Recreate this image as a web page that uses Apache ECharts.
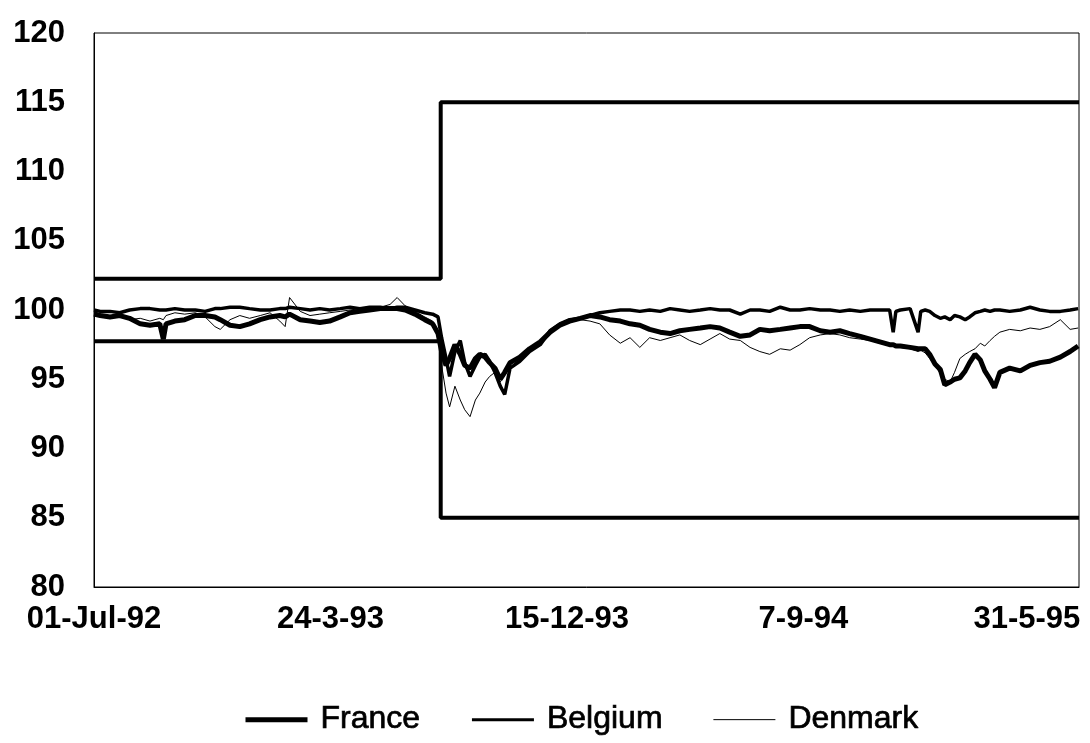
<!DOCTYPE html>
<html>
<head>
<meta charset="utf-8">
<script src="https://cdn.jsdelivr.net/npm/echarts@6/dist/echarts.min.js"></script>
<style>
html,body{margin:0;padding:0;background:#fff;}
#chart{width:1090px;height:743px;}
</style>
</head>
<body>
<div id="chart"></div>
<script>
// x positions are day offsets from 01-Jul-92
const tickDays = [0, 266, 532, 798, 1064];
const tickLabels = ['01-Jul-92', '24-3-93', '15-12-93', '7-9-94', '31-5-95'];

const days = [0,7,18,29,40,52,63,74,78,81,91,102,114,125,136,142,153,164,175,187,198,209,215,220,232,243,254,265,277,288,299,310,322,333,341,350,361,372,381,387,391,396,400,406,412,417,423,429,434,440,445,451,457,462,468,479,490,502,513,524,535,547,558,569,580,592,603,614,625,637,648,659,670,682,693,704,715,727,738,749,760,772,783,794,805,817,828,839,850,862,873,884,895,899,902,907,918,927,930,935,940,946,952,957,963,968,974,980,985,991,997,1002,1008,1013,1019,1030,1042,1053,1064,1075,1087,1098,1107];

const france = [99.7,99.6,99.5,99.6,99.4,99.0,98.9,99.0,97.9,99.0,99.2,99.3,99.6,99.6,99.5,99.3,98.9,98.8,99.0,99.3,99.5,99.6,99.5,99.7,99.3,99.2,99.1,99.2,99.5,99.8,99.9,100.0,100.1,100.1,100.1,100.0,99.7,99.3,99.0,98.3,97.0,96.0,96.5,97.5,96.8,96.0,95.8,96.5,96.8,96.6,96.2,95.8,95.0,95.5,96.2,96.6,97.2,97.7,98.4,98.9,99.2,99.4,99.6,99.5,99.3,99.2,99.0,98.9,98.6,98.4,98.3,98.5,98.6,98.7,98.8,98.7,98.4,98.1,98.2,98.6,98.5,98.6,98.7,98.8,98.8,98.5,98.4,98.5,98.3,98.1,97.9,97.7,97.5,97.5,97.4,97.4,97.3,97.2,97.2,97.2,96.8,96.1,95.7,94.6,94.8,95.0,95.1,95.6,96.2,96.8,96.4,95.6,95.0,94.4,95.5,95.8,95.6,96.0,96.2,96.3,96.6,97.0,97.4];

const belgium = [100.0,99.9,99.9,99.8,100.0,100.1,100.1,100.0,100.0,100.0,100.1,100.0,100.0,99.9,100.1,100.1,100.2,100.2,100.1,100.0,100.0,100.1,100.1,100.2,100.1,100.0,100.1,100.0,100.1,100.2,100.1,100.2,100.2,100.1,100.2,100.2,100.0,99.8,99.7,99.5,98.0,96.5,95.2,97.0,97.8,96.2,95.2,96.0,96.6,96.8,96.3,95.5,94.5,93.9,95.8,96.3,97.0,97.5,98.5,99.0,99.3,99.4,99.6,99.8,99.9,100.0,100.0,99.9,100.0,99.9,100.1,100.0,99.9,100.0,100.1,100.0,100.0,99.7,100.0,100.0,99.9,100.2,100.0,100.0,100.1,100.0,100.0,99.9,100.0,99.9,100.0,100.0,100.0,98.4,99.9,100.0,100.1,98.4,99.9,100.0,99.9,99.6,99.4,99.5,99.3,99.6,99.5,99.3,99.5,99.8,99.9,100.0,99.9,100.0,100.0,99.9,100.0,100.2,100.0,99.9,99.9,100.0,100.1];

const denmark = [99.9,99.7,99.6,99.5,99.3,99.4,99.2,99.4,99.3,99.6,99.8,99.7,99.8,99.5,98.8,98.6,99.3,99.6,99.4,99.6,99.8,99.2,98.8,100.9,99.9,99.6,99.7,99.8,99.9,100.0,100.1,100.0,100.2,100.4,100.9,100.3,99.9,99.5,99.2,98.5,96.0,94.0,93.0,94.5,93.5,92.8,92.3,93.5,94.0,94.8,95.2,95.5,94.8,95.3,95.8,96.5,97.0,97.6,98.3,98.8,99.1,99.3,99.2,99.0,98.2,97.6,98.0,97.3,98.0,97.8,98.0,98.2,97.8,97.5,97.9,98.3,97.9,97.8,97.3,97.0,96.8,97.2,97.1,97.5,98.0,98.2,98.3,98.2,98.0,97.9,97.8,97.6,97.4,97.4,97.3,97.3,97.2,97.0,97.1,96.9,96.5,96.0,95.4,95.0,94.8,95.5,96.5,96.8,97.0,97.2,97.6,97.4,97.8,98.1,98.4,98.6,98.5,98.7,98.6,98.8,99.3,98.6,98.7];

// fluctuation band limits (narrow band, then widened band)
const bandDays = [0, 390, 390, 1108];
const upperBand = [102.25, 102.25, 115, 115];
const lowerBand = [97.75, 97.75, 85, 85];

const pairs = (xs, ys) => xs.map((x, i) => [x, ys[i]]);
const FONT = 'Liberation Sans, Arial, sans-serif';
const hidden = {color: 'rgba(0,0,0,0)', borderColor: 'rgba(0,0,0,0)', borderWidth: 0};

const chart = echarts.init(document.getElementById('chart'), null, {renderer: 'canvas'});
chart.setOption({
  animation: false,
  backgroundColor: '#fff',
  grid: {left: 94, right: 11, top: 33, bottom: 156, show: true, borderColor: '#000', borderWidth: 1,
         containLabel: false, outerBoundsMode: 'none'},
  xAxis: {
    type: 'value', min: 0, max: 1108, interval: 266,
    axisLine: {lineStyle: {color: '#000', width: 1}},
    axisTick: {show: false},
    splitLine: {show: false},
    axisLabel: {
      color: '#000', fontFamily: FONT, fontSize: 31, fontWeight: 'bold', margin: 17,
      showMaxLabel: false, hideOverlap: false,
      formatter: v => {
        const i = tickDays.indexOf(v);
        if (i < 0) return '';
        return i === tickLabels.length - 1 ? '{last|' + tickLabels[i] + '}' : tickLabels[i];
      },
      rich: {last: {color: '#000', fontFamily: FONT, fontSize: 31, fontWeight: 'bold', padding: [0, 26, 0, 0]}}
    }
  },
  yAxis: {
    type: 'value', min: 80, max: 120, interval: 5,
    axisLine: {show: true, lineStyle: {color: '#000', width: 1}},
    axisTick: {show: false},
    splitLine: {show: false},
    axisLabel: {color: '#000', fontFamily: FONT, fontSize: 31, fontWeight: 'bold', margin: 29}
  },
  legend: {
    data: [
      {name: 'France', itemStyle: hidden, lineStyle: {width: 5, color: '#000'}},
      {name: 'Belgium', itemStyle: hidden, lineStyle: {width: 3, color: '#000'}},
      {name: 'Denmark', itemStyle: hidden, lineStyle: {width: 1, color: '#000'}}
    ],
    bottom: 2, left: 238,
    itemWidth: 62, itemHeight: 14, itemGap: 50,
    textStyle: {color: '#000', fontFamily: FONT, fontSize: 32, textBorderColor: '#000', textBorderWidth: 0.7, padding: [0, 0, 0, 8]}
  },
  series: [
    {type: 'line', name: 'upper', data: pairs(bandDays, upperBand), symbol: 'none', lineStyle: {color: '#000', width: 4}, silent: true},
    {type: 'line', name: 'lower', data: pairs(bandDays, lowerBand), symbol: 'none', lineStyle: {color: '#000', width: 4}, silent: true},
    {type: 'line', name: 'Denmark', data: pairs(days, denmark), symbol: 'none', color: '#000', lineStyle: {color: '#000', width: 1}},
    {type: 'line', name: 'Belgium', data: pairs(days, belgium), symbol: 'none', color: '#000', lineStyle: {color: '#000', width: 3.5}},
    {type: 'line', name: 'France', data: pairs(days, france), symbol: 'none', color: '#000', lineStyle: {color: '#000', width: 5}}
  ]
});
</script>
</body>
</html>
